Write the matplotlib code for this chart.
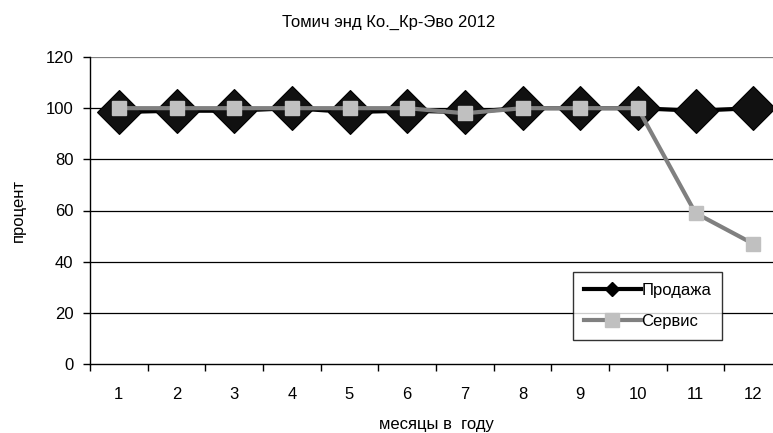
import matplotlib.pyplot as plt
from matplotlib.lines import Line2D

plt.rcParams['font.family'] = ['Liberation Sans', 'DejaVu Sans']

months = [1, 2, 3, 4, 5, 6, 7, 8, 9, 10, 11, 12]
month_labels = [str(m) for m in months]
sales = [98.5, 99, 99, 100, 98.5, 99, 98.5, 100, 100, 100, 99, 100]
service = [100, 100, 100, 100, 100, 100, 98, 100, 100, 100, 59, 47]
yticks = [0, 20, 40, 60, 80, 100, 120]

fig = plt.figure(figsize=(7.73, 4.33), dpi=100)
# plot area runs past the right edge, as in the original
ax = fig.add_axes([90 / 773, 69 / 433, 692 / 773, 307 / 433])

# gridlines
for y in yticks[1:]:
    ax.axhline(y, color='#808080' if y == 120 else 'black', lw=0.9, zorder=1)

ax.plot(months, sales, color='black', lw=3, marker='D', ms=22,
        mfc='#111111', mec='black', mew=0.8, zorder=3)
ax.plot(months, service, color='#808080', lw=3, marker='s', ms=10,
        mfc='#c0c0c0', mec='#c0c0c0', zorder=4)

ax.set_xlim(0.5, 12.5)
ax.set_ylim(0, 120)
ax.set_yticks(yticks)
ax.set_xticks([m + 0.5 for m in [0] + months])
ax.set_xticklabels([])
ax.set_xticks(months, minor=True)
ax.set_xticklabels(month_labels, minor=True)
ax.tick_params(axis='x', which='major', direction='out', length=5, width=1)
ax.tick_params(axis='x', which='minor', length=0, pad=16.5, labelsize=12)
ax.tick_params(axis='y', direction='out', length=5, width=1, pad=7, labelsize=12)

for s in ['top', 'right']:
    ax.spines[s].set_visible(False)
ax.spines['left'].set_linewidth(1)
ax.spines['bottom'].set_linewidth(1)

ax.set_ylabel('процент', fontsize=12, labelpad=14)
ax.set_xlabel('месяцы в  году', fontsize=12, labelpad=11)
fig.text(389 / 773, 1 - 22 / 433, 'Томич энд Ко._Кр-Эво 2012',
         ha='center', va='center', fontsize=12)

handles = [
    Line2D([], [], color='black', lw=3, marker='D', ms=7, mfc='black'),
    Line2D([], [], color='#808080', lw=3, marker='s', ms=10,
           mfc='#c0c0c0', mec='#c0c0c0'),
]
leg = fig.legend(handles, ['Продажа', 'Сервис'], loc='upper left',
                 bbox_to_anchor=(573 / 773, 1 - 272 / 433),
                 frameon=True, fancybox=False, edgecolor='black',
                 fontsize=12, handlelength=3.4, handletextpad=0.05,
                 borderpad=0.65, labelspacing=0.95, borderaxespad=0)
leg.get_frame().set_linewidth(1)

fig.savefig('out.png', dpi=100)
